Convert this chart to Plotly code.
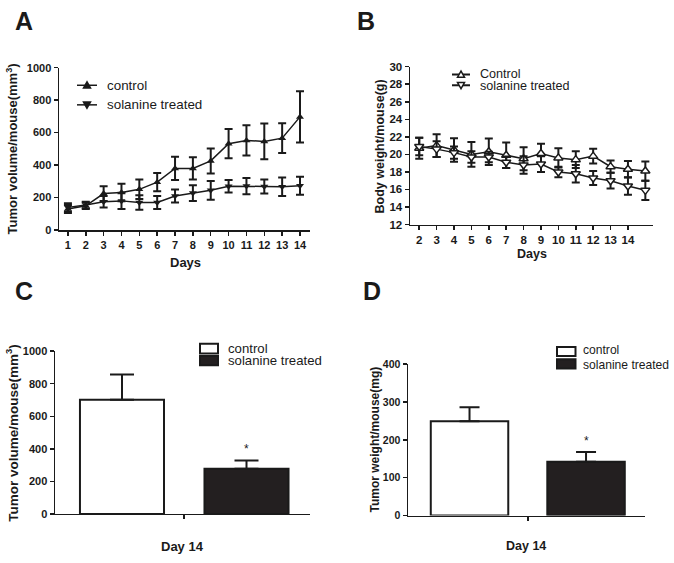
import plotly.graph_objects as go

W, H = 674, 563
FONT = "Liberation Sans"

# ---------------- data ----------------
days_a = list(range(1, 15))
tumor_control = [130, 150, 225, 231, 251, 295, 380, 380, 426, 532, 552, 546, 566, 697]
tumor_control_err = [25, 20, 45, 54, 60, 56, 72, 68, 77, 90, 93, 110, 92, 158]
tumor_treated = [140, 155, 175, 180, 170, 170, 210, 228, 245, 270, 271, 269, 267, 273]
tumor_treated_err = [25, 20, 35, 50, 45, 40, 40, 48, 58, 39, 50, 43, 57, 55]

days_b = list(range(2, 16))
day_ticks_b = list(range(2, 15))
bw_control = [20.7, 21.0, 20.5, 20.0, 20.3, 19.9, 19.5, 20.1, 19.6, 19.4, 19.8, 18.6, 18.3, 18.1]
bw_control_err = [1.2, 1.3, 1.35, 1.4, 1.5, 1.45, 1.3, 1.1, 1.1, 0.95, 0.85, 0.7, 0.95, 1.1]
bw_treated = [20.9, 20.6, 20.2, 19.7, 19.7, 19.1, 18.8, 18.9, 18.0, 17.8, 17.3, 17.0, 16.4, 15.9]
bw_treated_err = [1.0, 0.9, 0.7, 0.65, 0.6, 0.65, 1.0, 0.9, 0.6, 1.0, 0.8, 0.9, 1.0, 1.1]

groups = ["control", "solanine treated"]
vol_day14 = [702, 278]
vol_day14_err = [154, 51]
wt_day14 = [249, 142]
wt_day14_err = [37, 26]

# ---------------- helpers ----------------
def fx(p):
    return p / W

def fy(p):
    return 1 - p / H

BLACK = "#1a1a1a"
DARK = "#231f20"

fig = go.Figure()

# Panel A
fig.add_trace(go.Scatter(
    x=days_a, y=tumor_control, mode="lines+markers", name="control",
    line=dict(color=BLACK, width=1.5),
    marker=dict(symbol="triangle-up", size=7, color=BLACK),
    error_y=dict(type="data", array=tumor_control_err, color=BLACK, thickness=2, width=4),
    xaxis="x", yaxis="y", showlegend=False))
fig.add_trace(go.Scatter(
    x=days_a, y=tumor_treated, mode="lines+markers", name="solanine treated",
    line=dict(color=BLACK, width=1.5),
    marker=dict(symbol="triangle-down", size=7, color=BLACK),
    error_y=dict(type="data", array=tumor_treated_err, color=BLACK, thickness=2, width=4),
    xaxis="x", yaxis="y", showlegend=False))

# Panel B
fig.add_trace(go.Scatter(
    x=days_b, y=bw_control, mode="lines+markers", name="Control",
    line=dict(color=BLACK, width=1.5),
    marker=dict(symbol="triangle-up", size=8, color="white", line=dict(color=BLACK, width=1.5)),
    error_y=dict(type="data", array=bw_control_err, color=BLACK, thickness=2, width=4),
    xaxis="x2", yaxis="y2", showlegend=False))
fig.add_trace(go.Scatter(
    x=days_b, y=bw_treated, mode="lines+markers", name="solanine treated",
    line=dict(color=BLACK, width=1.5),
    marker=dict(symbol="triangle-down", size=8, color="white", line=dict(color=BLACK, width=1.5)),
    error_y=dict(type="data", array=bw_treated_err, color=BLACK, thickness=2, width=4),
    xaxis="x2", yaxis="y2", showlegend=False))

# Panel C
fig.add_trace(go.Bar(
    x=[0, 1], y=vol_day14, width=0.675,
    marker=dict(color=["white", DARK], line=dict(color=BLACK, width=2)),
    error_y=dict(type="data", array=vol_day14_err, arrayminus=[0, 0], color=BLACK, thickness=2, width=12),
    xaxis="x3", yaxis="y3", showlegend=False))

# Panel D
fig.add_trace(go.Bar(
    x=[0, 1], y=wt_day14, width=0.665,
    marker=dict(color=["white", DARK], line=dict(color=BLACK, width=2)),
    error_y=dict(type="data", array=wt_day14_err, arrayminus=[0, 0], color=BLACK, thickness=2, width=10),
    xaxis="x4", yaxis="y4", showlegend=False))

def axis(domain, rng, fs, **kw):
    d = dict(domain=domain, range=rng, showline=True, linecolor=BLACK, linewidth=1.5,
             ticks="outside", ticklen=4, tickwidth=1.5, tickcolor=BLACK,
             showgrid=False, zeroline=False, fixedrange=True,
             tickfont=dict(family=FONT, size=fs, color=BLACK, weight="bold"))
    d.update(kw)
    return d

layout = dict(
    width=W, height=H, margin=dict(l=0, r=0, t=0, b=0),
    paper_bgcolor="white", plot_bgcolor="white", showlegend=False,
    xaxis=axis([fx(59), fx(310)], [0.5, 14.56], 11, anchor="y", tickmode="array", tickvals=days_a),
    yaxis=axis([fy(229), fy(63)], [0, 1000], 11, anchor="x", dtick=200),
    xaxis2=axis([fx(410), fx(653)], [1.47, 15.44], 11.5, anchor="y2", tickmode="array", tickvals=day_ticks_b),
    yaxis2=axis([fy(223.3), fy(62)], [12, 30], 11.5, anchor="x2", dtick=2),
    xaxis3=axis([fx(55), fx(310)], [-0.538, 1.51], 11, anchor="y3", tickmode="array", tickvals=[0.5],
                showticklabels=False),
    yaxis3=axis([fy(519), fy(352.7)], [0, 1000], 11, anchor="x3", dtick=200),
    xaxis4=axis([fx(408), fx(645)], [-0.528, 1.506], 10.5, anchor="y4", tickmode="array", tickvals=[0.5],
                showticklabels=False),
    yaxis4=axis([fy(520.7), fy(366)], [0, 400], 10.5, anchor="x4", dtick=100),
)
fig.update_layout(**layout)

ann = []
shapes = []

def text(x, y, s, size, bold=False, angle=0, xanchor="center"):
    ann.append(dict(x=fx(x), y=fy(y), xref="paper", yref="paper", text=s, showarrow=False,
                    xanchor=xanchor, yanchor="middle", textangle=angle, borderpad=0,
                    font=dict(family=FONT, size=size, color=BLACK, weight="bold" if bold else "normal")))

# panel letters
text(24, 15, "A", 25, True)
text(366, 15, "B", 25, True)
text(24, 291, "C", 25, True)
text(372, 291, "D", 25, True)

# axis titles
text(12, 146.5, "Tumor volume/mouse(mm<sup>3</sup>)", 13, True, -90)
text(185, 262, "Days", 13, True)
text(380, 143.5, "Body weight/mouse(g)", 12.5, True, -90)
text(532, 253, "Days", 12.5, True)
text(12, 436, "Tumor volume/mouse(mm<sup>3</sup>)", 13.5, True, -90)
text(182.5, 552, "Day 14", 13, True)
text(375, 443, "Tumor weight/mouse(mg)", 12, True, -90)
text(526, 552, "Day 14", 12.5, True)

# significance asterisks
ann.append(dict(x=1, y=vol_day14[1] + vol_day14_err[1], xref="x3", yref="y3", text="*",
                showarrow=False, yanchor="bottom", yshift=2, font=dict(family=FONT, size=12, color=BLACK)))
ann.append(dict(x=1, y=wt_day14[1] + wt_day14_err[1], xref="x4", yref="y4", text="*",
                showarrow=False, yanchor="bottom", yshift=2, font=dict(family=FONT, size=12, color=BLACK)))

# ---------------- legends (drawn) ----------------
def tri(cx, cy, s, up, fill):
    if up:
        pts = [(cx, cy - s), (cx - s, cy + s * 0.8), (cx + s, cy + s * 0.8)]
    else:
        pts = [(cx, cy + s), (cx - s, cy - s * 0.8), (cx + s, cy - s * 0.8)]
    path = "M " + " L ".join(f"{fx(px)},{fy(py)}" for px, py in pts) + " Z"
    shapes.append(dict(type="path", path=path, xref="paper", yref="paper",
                       fillcolor=fill, line=dict(color=BLACK, width=1.5)))

def hline(x0, x1, y, w=1.5):
    shapes.append(dict(type="line", x0=fx(x0), x1=fx(x1), y0=fy(y), y1=fy(y),
                       xref="paper", yref="paper", line=dict(color=BLACK, width=w)))

def box(x0, x1, y0, y1, fill):
    shapes.append(dict(type="rect", x0=fx(x0), x1=fx(x1), y0=fy(y1), y1=fy(y0),
                       xref="paper", yref="paper", fillcolor=fill, line=dict(color=BLACK, width=2)))

# A legend
hline(77, 97, 81); tri(87, 81, 3.5, True, BLACK)
text(106, 81, "control", 13.4, xanchor="left")
hline(77, 97, 101); tri(87, 101, 3.5, False, BLACK)
text(106, 101, "solanine treated", 13.4, xanchor="left")

# B legend
hline(452, 470, 70, 2); tri(461, 70, 3.5, True, "white")
text(479, 69.5, "Control", 12.6, xanchor="left")
hline(452, 470, 81, 2); tri(461, 81, 3.5, False, "white")
text(479, 81.5, "solanine treated", 12.6, xanchor="left")

# C legend
box(200, 218, 345, 355, "white")
text(227, 349.5, "control", 13.2, xanchor="left")
box(200, 218, 357.5, 367, DARK)
text(227, 362.5, "solanine treated", 13.2, xanchor="left")

# D legend
box(557, 575.5, 348.5, 357.5, "white")
text(582, 352, "control", 12.1, xanchor="left")
box(557, 575.5, 361, 370.5, DARK)
text(582, 366.5, "solanine treated", 12.1, xanchor="left")

fig.update_layout(annotations=ann, shapes=shapes)
fig.write_html("out.html", config={"displayModeBar": False, "staticPlot": True},
               post_script="document.body.style.margin='0';document.body.style.overflow='hidden';")
